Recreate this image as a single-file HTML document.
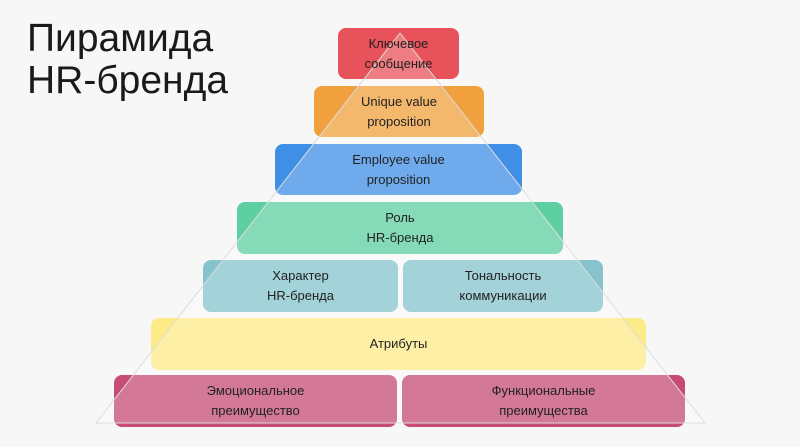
<!DOCTYPE html>
<html><head><meta charset="utf-8"><style>
body{margin:0;width:800px;height:447px;background:#f7f7f7;position:relative;overflow:hidden;font-family:"Liberation Sans","DejaVu Sans",sans-serif}
.t{position:absolute;left:27px;top:18px;font-size:39px;line-height:42px;color:#1a1a1a}
.b{position:absolute;border-radius:8px}
svg{position:absolute;left:0;top:0}
.l{position:absolute;display:flex;align-items:center;justify-content:center;text-align:center;font-size:13px;line-height:20px;color:#222}
</style></head><body>
<div class="t">Пирамида<br>HR-бренда</div>
<div class="b" style="left:338px;top:28px;width:121px;height:51px;background:#e8525a"></div>
<div class="b" style="left:314px;top:86px;width:170px;height:51px;background:#f0a03c"></div>
<div class="b" style="left:275px;top:144px;width:247px;height:51px;background:#3f8fe6"></div>
<div class="b" style="left:237px;top:202px;width:326px;height:52px;background:#5dcfa0"></div>
<div class="b" style="left:203px;top:260px;width:195px;height:52px;background:#86c3cd"></div>
<div class="b" style="left:403px;top:260px;width:200px;height:52px;background:#86c3cd"></div>
<div class="b" style="left:151px;top:318px;width:495px;height:52px;background:#fdeb88"></div>
<div class="b" style="left:114px;top:375px;width:283px;height:52px;background:#c64b76"></div>
<div class="b" style="left:402px;top:375px;width:283px;height:52px;background:#c64b76"></div>
<svg width="800" height="447"><polygon points="400,33 96,423 705,423" fill="rgba(255,255,255,0.25)" stroke="#dcdcdc" stroke-width="1"/></svg>
<div class="l" style="left:338px;top:28px;width:121px;height:51px">Ключевое<br>сообщение</div>
<div class="l" style="left:314px;top:86px;width:170px;height:51px">Unique value<br>proposition</div>
<div class="l" style="left:275px;top:144px;width:247px;height:51px">Employee value<br>proposition</div>
<div class="l" style="left:237px;top:202px;width:326px;height:52px">Роль<br>HR-бренда</div>
<div class="l" style="left:203px;top:260px;width:195px;height:52px">Характер<br>HR-бренда</div>
<div class="l" style="left:403px;top:260px;width:200px;height:52px">Тональность<br>коммуникации</div>
<div class="l" style="left:151px;top:318px;width:495px;height:52px">Атрибуты</div>
<div class="l" style="left:114px;top:375px;width:283px;height:52px">Эмоциональное<br>преимущество</div>
<div class="l" style="left:402px;top:375px;width:283px;height:52px">Функциональные<br>преимущества</div>
</body></html>
